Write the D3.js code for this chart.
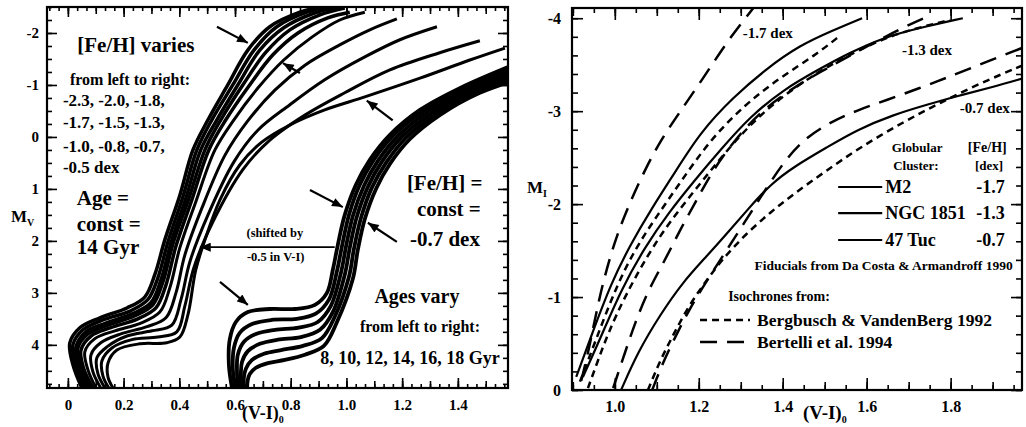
<!DOCTYPE html>
<html>
<head>
<meta charset="utf-8">
<script src="https://cdn.jsdelivr.net/npm/d3@7"></script>
<style>
  body { margin: 0; background: #fff; }
  svg text { font-family: "Liberation Serif", "Times New Roman", serif; font-weight: bold; fill: #000; }
</style>
</head>
<body>
<svg id="chart" width="1026" height="427"></svg>
<script>
// ---- left panel: isochrones, [V-I, M_V] ----
// age 14 Gyr, [Fe/H] from left to right
var fehLevels = ["-2.3", "-2.0", "-1.8", "-1.7", "-1.5", "-1.3", "-1.0", "-0.8", "-0.7", "-0.5"];
var isoFeh23 = [[0.050,4.83],[0.018,4.38],[0.007,3.96],[0.043,3.67],[0.115,3.48],[0.212,3.29],[0.276,3.08],[0.312,2.65],[0.348,1.98],[0.402,1.12],[0.449,0.25],[0.503,-0.33],[0.574,-1.00],[0.646,-1.67],[0.725,-2.12],[0.833,-2.40],[0.922,-2.52]];
var isoFeh20 = [[0.061,4.83],[0.029,4.40],[0.018,4.00],[0.054,3.71],[0.126,3.52],[0.223,3.35],[0.287,3.13],[0.323,2.71],[0.359,2.02],[0.413,1.15],[0.463,0.25],[0.517,-0.33],[0.592,-1.00],[0.668,-1.67],[0.750,-2.12],[0.858,-2.40],[0.948,-2.52]];
var isoFeh18 = [[0.072,4.83],[0.039,4.42],[0.029,4.04],[0.065,3.75],[0.136,3.58],[0.233,3.40],[0.298,3.19],[0.334,2.75],[0.370,2.04],[0.424,1.17],[0.477,0.25],[0.535,-0.33],[0.610,-1.00],[0.689,-1.67],[0.775,-2.10],[0.883,-2.38],[0.976,-2.50]];
var isoFeh17 = [[0.079,4.83],[0.047,4.44],[0.036,4.06],[0.072,3.79],[0.144,3.62],[0.241,3.44],[0.305,3.23],[0.341,2.79],[0.377,2.06],[0.434,1.19],[0.492,0.25],[0.549,-0.33],[0.628,-1.00],[0.711,-1.63],[0.797,-2.06],[0.905,-2.35],[0.994,-2.48]];
var isoFeh15 = [[0.090,4.83],[0.057,4.46],[0.047,4.10],[0.083,3.83],[0.154,3.67],[0.251,3.50],[0.316,3.29],[0.352,2.85],[0.388,2.10],[0.445,1.21],[0.506,0.25],[0.567,-0.33],[0.650,-0.98],[0.736,-1.58],[0.826,-2.00],[0.933,-2.29],[1.012,-2.40]];
var isoFeh13 = [[0.101,4.83],[0.072,4.48],[0.061,4.13],[0.097,3.88],[0.169,3.73],[0.262,3.58],[0.330,3.37],[0.366,2.90],[0.402,2.13],[0.459,1.25],[0.528,0.25],[0.596,-0.33],[0.682,-0.94],[0.775,-1.48],[0.876,-1.92],[0.976,-2.25],[1.066,-2.40]];
var isoFeh10 = [[0.118,4.83],[0.090,4.52],[0.083,4.19],[0.118,3.96],[0.190,3.79],[0.284,3.65],[0.352,3.48],[0.388,3.00],[0.420,2.27],[0.481,1.37],[0.564,0.35],[0.643,-0.29],[0.743,-0.90],[0.851,-1.38],[0.976,-1.77],[1.084,-2.06],[1.181,-2.27]];
var isoFeh08 = [[0.133,4.83],[0.108,4.56],[0.104,4.25],[0.140,4.04],[0.212,3.83],[0.302,3.73],[0.373,3.62],[0.406,3.13],[0.438,2.40],[0.503,1.50],[0.596,0.48],[0.682,-0.13],[0.797,-0.62],[0.922,-1.10],[1.066,-1.54],[1.192,-1.87],[1.325,-2.12]];
var isoFeh07 = [[0.147,4.83],[0.126,4.60],[0.122,4.31],[0.158,4.06],[0.230,3.90],[0.323,3.85],[0.391,3.75],[0.420,3.25],[0.452,2.52],[0.521,1.63],[0.628,0.63],[0.725,0.06],[0.851,-0.42],[0.994,-0.85],[1.156,-1.29],[1.335,-1.62],[1.479,-1.85]];
var isoFeh05 = [[0.162,4.83],[0.144,4.62],[0.144,4.35],[0.176,4.10],[0.258,3.98],[0.355,3.96],[0.402,3.85],[0.431,3.42],[0.459,2.56],[0.492,1.98],[0.546,1.21],[0.617,0.54],[0.696,0.10],[0.797,-0.23],[0.922,-0.52],[1.066,-0.77],[1.264,-1.13],[1.443,-1.48],[1.569,-1.71]];

// [Fe/H] = -0.7, ages from left to right (drawn shifted by +0.5 in V-I)
var ageLevels = [8, 10, 12, 14, 16, 18];
var isoAge08 = [[0.589,4.83],[0.578,4.38],[0.581,3.90],[0.603,3.56],[0.646,3.37],[0.725,3.31],[0.815,3.31],[0.887,3.23],[0.930,3.00],[0.951,2.56],[0.969,2.08],[0.994,1.50],[1.034,0.92],[1.084,0.44],[1.156,-0.04],[1.264,-0.52],[1.407,-0.94],[1.605,-1.40]];
var isoAge10 = [[0.600,4.83],[0.592,4.44],[0.596,4.06],[0.617,3.77],[0.661,3.60],[0.732,3.52],[0.822,3.50],[0.890,3.40],[0.937,3.13],[0.966,2.58],[0.984,2.10],[1.009,1.50],[1.048,0.92],[1.098,0.44],[1.170,-0.04],[1.278,-0.50],[1.422,-0.92],[1.619,-1.37]];
var isoAge12 = [[0.610,4.83],[0.607,4.50],[0.610,4.19],[0.632,3.94],[0.675,3.79],[0.743,3.71],[0.829,3.67],[0.897,3.56],[0.944,3.25],[0.980,2.62],[0.998,2.12],[1.023,1.52],[1.063,0.94],[1.113,0.46],[1.185,-0.02],[1.292,-0.48],[1.436,-0.90],[1.633,-1.33]];
var isoAge14 = [[0.621,4.83],[0.621,4.56],[0.625,4.33],[0.646,4.12],[0.689,3.98],[0.754,3.90],[0.836,3.85],[0.905,3.71],[0.951,3.37],[0.994,2.65],[1.012,2.13],[1.037,1.54],[1.077,0.96],[1.127,0.48],[1.199,0.00],[1.307,-0.46],[1.450,-0.88],[1.648,-1.29]];
var isoAge16 = [[0.632,4.83],[0.632,4.62],[0.639,4.46],[0.661,4.29],[0.704,4.17],[0.765,4.10],[0.844,4.02],[0.912,3.87],[0.958,3.46],[1.009,2.69],[1.027,2.15],[1.052,1.56],[1.091,0.98],[1.142,0.50],[1.213,0.02],[1.321,-0.44],[1.465,-0.87],[1.662,-1.25]];
var isoAge18 = [[0.643,4.83],[0.646,4.67],[0.653,4.56],[0.675,4.44],[0.718,4.35],[0.779,4.29],[0.851,4.19],[0.919,4.02],[0.966,3.56],[1.023,2.73],[1.041,2.17],[1.066,1.58],[1.106,1.00],[1.156,0.52],[1.228,0.04],[1.335,-0.42],[1.479,-0.85],[1.677,-1.21]];

// ---- right panel: [V-I, M_I] ----
var clusters = ["M2", "NGC 1851", "47 Tuc"];
var clusterFeh = ["-1.7", "-1.3", "-0.7"];
var fidM2 = [[0.908,-0.14],[0.943,-0.57],[0.991,-1.15],[1.039,-1.58],[1.086,-1.94],[1.143,-2.34],[1.203,-2.77],[1.282,-3.15],[1.362,-3.46],[1.441,-3.71],[1.520,-3.87],[1.589,-4.00]];
var fidNgc1851 = [[0.924,-0.14],[0.967,-0.57],[1.015,-1.08],[1.072,-1.54],[1.127,-1.90],[1.191,-2.26],[1.251,-2.58],[1.322,-2.94],[1.401,-3.23],[1.482,-3.44],[1.560,-3.63],[1.639,-3.79],[1.720,-3.89],[1.829,-4.00]];
var fid47Tuc = [[1.015,0.00],[1.055,-0.41],[1.108,-0.81],[1.162,-1.16],[1.215,-1.42],[1.270,-1.70],[1.322,-1.97],[1.370,-2.21],[1.429,-2.41],[1.505,-2.61],[1.577,-2.80],[1.663,-2.96],[1.744,-3.07],[1.822,-3.17],[1.901,-3.26],[1.970,-3.35]];
// Bergbusch & VandenBerg 1992
var bvFeh17 = [[0.917,-0.09],[0.955,-0.54],[1.003,-1.11],[1.050,-1.53],[1.100,-1.87],[1.160,-2.26],[1.227,-2.69],[1.310,-3.07],[1.393,-3.36],[1.477,-3.60],[1.536,-3.81]];
var bvFeh13 = [[0.936,-0.02],[0.960,-0.32],[0.984,-0.61],[1.022,-0.99],[1.079,-1.46],[1.134,-1.83],[1.198,-2.19],[1.258,-2.53],[1.327,-2.88],[1.405,-3.18],[1.484,-3.42],[1.560,-3.61],[1.639,-3.78],[1.715,-3.89],[1.798,-3.98]];
var bvFeh07 = [[1.079,0.00],[1.108,-0.32],[1.139,-0.59],[1.174,-0.89],[1.215,-1.16],[1.255,-1.40],[1.310,-1.67],[1.370,-1.91],[1.429,-2.12],[1.501,-2.35],[1.584,-2.61],[1.686,-2.88],[1.775,-3.09],[1.870,-3.30],[1.970,-3.49]];
// Bertelli et al. 1994
var beFeh17 = [[0.920,-0.10],[0.938,-0.43],[0.962,-0.97],[0.981,-1.31],[1.005,-1.67],[1.038,-2.04],[1.074,-2.39],[1.110,-2.69],[1.150,-2.96],[1.210,-3.35],[1.269,-3.76],[1.330,-4.11]];
var beFeh13 = [[0.996,-0.02],[1.024,-0.40],[1.048,-0.72],[1.079,-1.07],[1.120,-1.40],[1.155,-1.72],[1.191,-2.01],[1.234,-2.37],[1.286,-2.69],[1.346,-2.99],[1.417,-3.23],[1.489,-3.42],[1.560,-3.60],[1.632,-3.77],[1.691,-3.91],[1.751,-4.03]];
var beFeh07 = [[1.089,0.00],[1.115,-0.30],[1.146,-0.59],[1.179,-0.88],[1.217,-1.16],[1.260,-1.46],[1.310,-1.81],[1.358,-2.15],[1.405,-2.47],[1.453,-2.71],[1.513,-2.88],[1.577,-3.01],[1.648,-3.12],[1.727,-3.25],[1.791,-3.36],[1.863,-3.49],[1.970,-3.68]];

// tick labels
var leftXLabels = [0, 0.2, 0.4, 0.6, 0.8, 1.0, 1.2, 1.4];
var leftYLabels = [-2, -1, 0, 1, 2, 3, 4];
var rightXLabels = [1.0, 1.2, 1.4, 1.6, 1.8];
var rightYLabels = [-4, -3, -2, -1, 0];

var svg = d3.select("#chart");

var xL = d3.scaleLinear().domain([-0.075, 1.58]).range([47, 508]);
var yL = d3.scaleLinear().domain([-2.5, 4.83]).range([7, 388]);
var xR = d3.scaleLinear().domain([0.898, 1.97]).range([572, 1022]);
var yR = d3.scaleLinear().domain([-4.11, 0]).range([8, 390]);

var defs = svg.append("defs");
defs.append("clipPath").attr("id", "clipL").append("rect")
    .attr("x", 47).attr("y", 7).attr("width", 461).attr("height", 381);
defs.append("clipPath").attr("id", "clipR").append("rect")
    .attr("x", 572).attr("y", 8).attr("width", 450).attr("height", 382);
defs.append("marker")
    .attr("id", "head")
    .attr("viewBox", "0 0 12 10")
    .attr("refX", 12).attr("refY", 5)
    .attr("markerWidth", 12).attr("markerHeight", 9)
    .attr("markerUnits", "userSpaceOnUse")
    .attr("orient", "auto")
  .append("path")
    .attr("d", "M0,0L12,5L0,10z")
    .attr("fill", "#000");

function lineFor(xs, ys, curve) {
    return d3.line()
        .x(function(d){ return xs(d[0]); })
        .y(function(d){ return ys(d[1]); })
        .curve(curve);
}

// ---------- left panel curves ----------
var lineL = lineFor(xL, yL, d3.curveCatmullRom.alpha(0.5));
var gL = svg.append("g").attr("clip-path", "url(#clipL)");
var fehIsos = [isoFeh23, isoFeh20, isoFeh18, isoFeh17, isoFeh15, isoFeh13, isoFeh10, isoFeh08, isoFeh07, isoFeh05];
var ageIsos = [isoAge08, isoAge10, isoAge12, isoAge14, isoAge16, isoAge18];

gL.selectAll("path.feh")
    .data(fehIsos)
    .enter().append("path")
    .attr("class", "feh")
    .attr("d", lineL)
    .attr("fill", "none")
    .attr("stroke", "#000")
    .attr("stroke-width", function(d, i){ return i < 5 ? 3.5 : 3; });

gL.selectAll("path.age")
    .data(ageIsos)
    .enter().append("path")
    .attr("class", "age")
    .attr("d", lineL)
    .attr("fill", "none")
    .attr("stroke", "#000")
    .attr("stroke-width", 3.8);

// ---------- right panel curves ----------
var lineR = lineFor(xR, yR, d3.curveBasis);
var gR = svg.append("g").attr("clip-path", "url(#clipR)");
var rightSeries = [
    {pts: fidM2, dash: null}, {pts: fidNgc1851, dash: null}, {pts: fid47Tuc, dash: null},
    {pts: bvFeh17, dash: "7,5"}, {pts: bvFeh13, dash: "7,5"}, {pts: bvFeh07, dash: "7,5"},
    {pts: beFeh17, dash: "17,10"}, {pts: beFeh13, dash: "17,10"}, {pts: beFeh07, dash: "17,10"}
];
gR.selectAll("path")
    .data(rightSeries)
    .enter().append("path")
    .attr("d", function(d){ return lineR(d.pts); })
    .attr("fill", "none")
    .attr("stroke", "#000")
    .attr("stroke-width", function(d){ return d.dash ? 2.5 : 2.2; })
    .attr("stroke-dasharray", function(d){ return d.dash; });

// ---------- axes / frames ----------
function inDomain(s) {
    var d = s.domain(), lo = Math.min(d[0], d[1]), hi = Math.max(d[0], d[1]);
    return function(v){ return v >= lo - 1e-9 && v <= hi + 1e-9; };
}

function frame(xs, ys, o) {
    var top = ys.range()[0], bottom = ys.range()[1];
    var left = xs.range()[0], right = xs.range()[1];
    var g = svg.append("g");
    var xOk = inDomain(xs), yOk = inDomain(ys);

    var xSets = [[o.xMinor.filter(xOk), o.xMinorLen], [o.xMid.filter(xOk), o.xMidLen]];
    xSets.forEach(function(s){
        g.append("g").attr("transform", "translate(0," + bottom + ")")
            .call(d3.axisBottom(xs).tickValues(s[0]).tickSize(-s[1]).tickFormat(""));
        g.append("g").attr("transform", "translate(0," + top + ")")
            .call(d3.axisTop(xs).tickValues(s[0]).tickSize(-s[1]).tickFormat(""));
    });
    g.append("g").attr("transform", "translate(0," + bottom + ")")
        .attr("class", "lab")
        .call(d3.axisBottom(xs).tickValues(o.xLabels).tickSize(-o.xMajorLen).tickPadding(o.xPad).tickFormat(o.xFmt));
    g.append("g").attr("transform", "translate(0," + top + ")")
        .call(d3.axisTop(xs).tickValues(o.xLabels).tickSize(-o.xMajorLen).tickFormat(""));

    g.append("g").attr("transform", "translate(" + left + ",0)")
        .call(d3.axisLeft(ys).tickValues(o.yMinor.filter(yOk)).tickSize(-o.yMinorLen).tickFormat(""));
    g.append("g").attr("transform", "translate(" + right + ",0)")
        .call(d3.axisRight(ys).tickValues(o.yMinor.filter(yOk)).tickSize(-o.yMinorLen).tickFormat(""));
    g.append("g").attr("transform", "translate(" + left + ",0)")
        .attr("class", "lab")
        .call(d3.axisLeft(ys).tickValues(o.yLabels).tickSize(-o.yMajorLen).tickPadding(o.yPad).tickFormat(function(d){ return String(d); }));
    g.append("g").attr("transform", "translate(" + right + ",0)")
        .call(d3.axisRight(ys).tickValues(o.yLabels).tickSize(-o.yMajorLen).tickFormat(""));

    g.selectAll(".domain").remove();
    g.selectAll(".tick line").attr("stroke", "#000").attr("stroke-width", 1.6);
    g.selectAll(".lab text").style("font-size", o.fontSize + "px");

    g.append("rect")
        .attr("x", left).attr("y", top)
        .attr("width", right - left).attr("height", bottom - top)
        .attr("fill", "none").attr("stroke", "#000").attr("stroke-width", 2.2);
}

frame(xL, yL, {
    xLabels: leftXLabels,
    xMid: d3.range(0, 16).map(function(i){ return i / 10; }),
    xMinor: d3.range(-2, 48).map(function(i){ return i / 30; }),
    xMajorLen: 10, xMidLen: 7, xMinorLen: 4, xPad: 11,
    xFmt: function(d){ return d === 0 ? "0" : d.toFixed(1); },
    yLabels: leftYLabels,
    yMinor: d3.range(-10, 20).map(function(i){ return i / 4; }),
    yMajorLen: 10, yMinorLen: 5, yPad: 8,
    fontSize: 15
});

frame(xR, yR, {
    xLabels: rightXLabels,
    xMid: d3.range(9, 20).map(function(i){ return i / 10; }),
    xMinor: d3.range(18, 40).map(function(i){ return i / 20; }),
    xMajorLen: 12, xMidLen: 8, xMinorLen: 5, xPad: 11,
    xFmt: function(d){ return d.toFixed(1); },
    yLabels: rightYLabels,
    yMinor: d3.range(-21, 1).map(function(i){ return i / 5; }),
    yMajorLen: 11, yMinorLen: 6, yPad: 11,
    fontSize: 16
});

// ---------- axis titles ----------
function subTitle(x, y, main, sub, size, subSize, dy) {
    var t = svg.append("text").attr("x", x).attr("y", y).style("font-size", size + "px");
    t.append("tspan").text(main);
    t.append("tspan").attr("dy", dy).style("font-size", subSize + "px").text(sub);
}
subTitle(11, 222, "M", "V", 17, 10, 4);
subTitle(527, 193, "M", "I", 17, 10, 4);
subTitle(242, 419, "(V-I)", "0", 18, 10, 4);
subTitle(803, 419, "(V-I)", "0", 19, 10, 4);

// ---------- annotations ----------
var leftNotes = [
    ["[Fe/H] varies", 0.244, -1.63, 21, "middle"],
    ["from left to right:", 0.223, -1.00, 16, "middle"],
    ["-2.3, -2.0, -1.8,", -0.018, -0.60, 17, "start"],
    ["-1.7, -1.5, -1.3,", -0.018, -0.17, 17, "start"],
    ["-1.0, -0.8, -0.7,", -0.018, 0.29, 17, "start"],
    ["-0.5 dex", -0.018, 0.69, 17, "start"],
    ["Age =", 0.032, 1.31, 21, "start"],
    ["const =", 0.032, 1.81, 21, "start"],
    ["14 Gyr", 0.032, 2.25, 21, "start"],
    ["[Fe/H] =", 1.217, 1.02, 21, "start"],
    ["const =", 1.253, 1.52, 21, "start"],
    ["-0.7 dex", 1.228, 2.10, 21, "start"],
    ["Ages vary", 1.253, 3.19, 20, "middle"],
    ["from left to right:", 1.264, 3.75, 16, "middle"],
    ["8, 10, 12, 14, 16, 18 Gyr", 1.228, 4.37, 18, "middle"],
    ["(shifted by", 0.743, 1.92, 12.5, "middle"],
    ["-0.5 in V-I)", 0.746, 2.38, 12.5, "middle"]
];
var rightNotes = [
    ["-1.7 dex", 1.305, -3.79, 15, "start"],
    ["-1.3 dex", 1.684, -3.60, 15, "start"],
    ["-0.7 dex", 1.822, -2.98, 15, "start"],
    ["Globular", 1.660, -2.56, 13, "start"],
    ["Cluster:", 1.663, -2.37, 13, "start"],
    ["[Fe/H]", 1.841, -2.56, 14, "start"],
    ["[dex]", 1.858, -2.37, 13, "start"],
    [clusters[0], 1.644, -2.12, 18, "start"],
    [clusters[1], 1.644, -1.84, 18, "start"],
    [clusters[2], 1.644, -1.55, 18, "start"],
    [clusterFeh[0], 1.929, -2.12, 18, "end"],
    [clusterFeh[1], 1.929, -1.84, 18, "end"],
    [clusterFeh[2], 1.929, -1.55, 18, "end"],
    ["Fiducials from Da Costa & Armandroff 1990", 1.948, -1.29, 13.5, "end"],
    ["Isochrones from:", 1.270, -0.958, 14, "start"],
    ["Bergbusch & VandenBerg 1992", 1.339, -0.688, 17.5, "start"],
    ["Bertelli et al. 1994", 1.339, -0.452, 17.5, "start"]
];

function notes(list, xs, ys) {
    svg.append("g").selectAll("text")
        .data(list)
        .enter().append("text")
        .attr("x", function(d){ return xs(d[1]); })
        .attr("y", function(d){ return ys(d[2]); })
        .attr("text-anchor", function(d){ return d[4]; })
        .style("font-size", function(d){ return d[3] + "px"; })
        .text(function(d){ return d[0]; });
}
notes(leftNotes, xL, yL);
notes(rightNotes, xR, yR);

// arrows, [tail V-I, tail M, tip V-I, tip M]
var leftArrows = [
    [0.535, -2.12, 0.646, -1.81],
    [0.833, -1.23, 0.772, -1.42],
    [1.166, -0.32, 1.073, -0.70],
    [0.869, 1.02, 0.987, 1.35],
    [1.181, 2.02, 1.077, 1.65],
    [0.546, 2.79, 0.646, 3.23],
    [0.958, 2.12, 0.474, 2.12]
];
svg.append("g").selectAll("line")
    .data(leftArrows)
    .enter().append("line")
    .attr("x1", function(d){ return xL(d[0]); })
    .attr("y1", function(d){ return yL(d[1]); })
    .attr("x2", function(d){ return xL(d[2]); })
    .attr("y2", function(d){ return yL(d[3]); })
    .attr("stroke", "#000")
    .attr("stroke-width", function(d, i){ return i === 6 ? 1.6 : 2.2; })
    .attr("marker-end", "url(#head)");

// legend lines (right panel)
var legendSolid = [-2.184, -1.904, -1.614];
svg.append("g").selectAll("line")
    .data(legendSolid)
    .enter().append("line")
    .attr("x1", xR(1.532)).attr("x2", xR(1.637))
    .attr("y1", function(d){ return yR(d); })
    .attr("y2", function(d){ return yR(d); })
    .attr("stroke", "#000").attr("stroke-width", 2.2);

var legendDash = [[-0.753, "7,5"], [-0.517, "17,10"]];
svg.append("g").selectAll("line")
    .data(legendDash)
    .enter().append("line")
    .attr("x1", xR(1.203)).attr("x2", xR(1.322))
    .attr("y1", function(d){ return yR(d[0]); })
    .attr("y2", function(d){ return yR(d[0]); })
    .attr("stroke", "#000").attr("stroke-width", 2.5)
    .attr("stroke-dasharray", function(d){ return d[1]; });
</script>
</body>
</html>
